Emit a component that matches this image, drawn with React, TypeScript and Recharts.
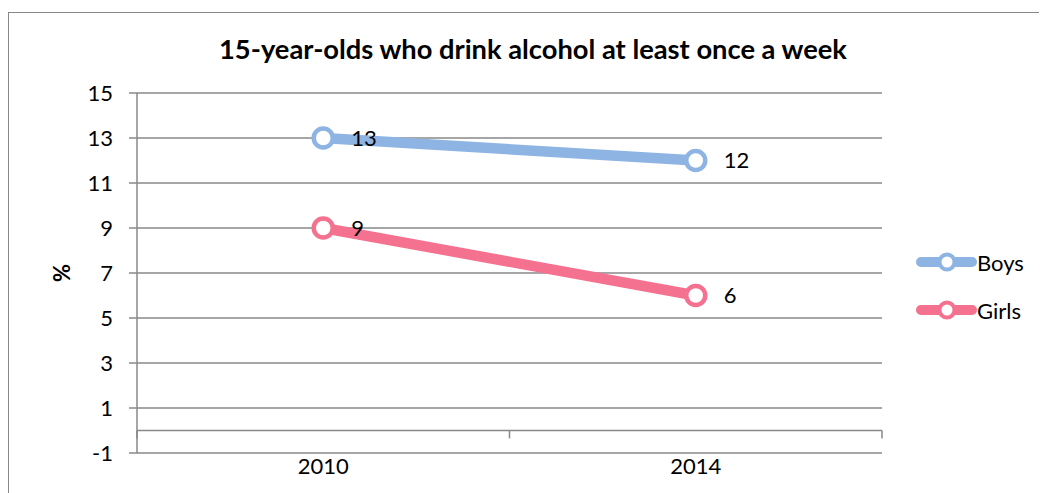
import React from "react";
import {
  LineChart, Line, XAxis, YAxis, CartesianGrid, ReferenceLine, LabelList,
} from "recharts";

const years = ["2010", "2014"];
const boys = [13, 12];
const girls = [9, 6];
const yTicks = [-1, 1, 3, 5, 7, 9, 11, 13, 15];

const SERIES = [
  { key: "boys", name: "Boys", color: "#8EB4E3" },
  { key: "girls", name: "Girls", color: "#F4718F" },
];

const GRID = "#888888";
const FONT = "Lato, 'Open Sans', sans-serif";

// points sit in the middle of each year band, band edges get the small ticks
const data = years.map((year, i) => ({ pos: i + 0.5, year, boys: boys[i], girls: girls[i] }));
const bandEdges = Array.from({ length: years.length + 1 }, (_, i) => i);

function Marker(props: any) {
  const { cx, cy, stroke } = props;
  if (cx == null || cy == null) return null;
  return <circle cx={cx} cy={cy} r={9.5} fill="#fff" stroke={stroke} strokeWidth={4.5} />;
}

function LegendBox() {
  return (
    <div style={{ position: "absolute", left: 907, top: 236, fontFamily: FONT, fontSize: 22, color: "#000" }}>
      {SERIES.map((s, i) => (
        <div key={s.key} style={{ display: "flex", alignItems: "center", height: 26, marginTop: i ? 22 : 0 }}>
          <svg width={61} height={26}>
            <line x1={5} y1={13} x2={56} y2={13} stroke={s.color} strokeWidth={10} strokeLinecap="round" />
            <circle cx={31} cy={13} r={7.5} fill="#fff" stroke={s.color} strokeWidth={4} />
          </svg>
          <span>{s.name}</span>
        </div>
      ))}
    </div>
  );
}

export default function App() {
  return (
    <div style={{ position: "relative", width: 1039, height: 481, marginTop: 4, borderTop: `1px solid ${GRID}`, borderLeft: `1px solid ${GRID}` }}>
      <div style={{ position: "absolute", left: 0, width: 1048, top: 19, textAlign: "center", fontFamily: FONT, fontWeight: 700, fontSize: 27.3, color: "#000" }}>
        15-year-olds who drink alcohol at least once a week
      </div>
      <LineChart width={1038} height={480} data={data} margin={{ top: 80, right: 165, bottom: 10, left: 30 }}>
        <CartesianGrid vertical={false} stroke={GRID} strokeWidth={1.5} />
        <XAxis
          type="number"
          dataKey="pos"
          domain={[0, years.length]}
          ticks={data.map(d => d.pos)}
          tickFormatter={(v: number) => years[Math.floor(v)]}
          height={30}
          axisLine={false}
          tickLine={false}
          tickSize={0}
          tickMargin={5}
          tick={{ fontSize: 22, fill: "#000", fontFamily: FONT }}
        />
        <YAxis
          domain={[-1, 15]}
          ticks={yTicks}
          interval={0}
          width={98}
          tickSize={8}
          tickMargin={16}
          stroke={GRID}
          axisLine={{ stroke: GRID, strokeWidth: 1.5 }}
          tickLine={{ stroke: GRID, strokeWidth: 1.5 }}
          tick={{ fontSize: 22, fill: "#000", fontFamily: FONT }}
          label={{ value: "%", angle: -90, position: "center", dx: -26, fontSize: 22, fontWeight: 700, fill: "#000", fontFamily: FONT }}
        />
        <ReferenceLine y={0} stroke={GRID} strokeWidth={1.5} />
        {bandEdges.map(x => (
          <ReferenceLine key={x} segment={[{ x, y: 0 }, { x, y: -0.35 }]} stroke={GRID} strokeWidth={1.5} />
        ))}
        {SERIES.map(s => (
          <Line
            key={s.key}
            dataKey={s.key}
            name={s.name}
            stroke={s.color}
            strokeWidth={10.5}
            dot={<Marker />}
            activeDot={false}
            isAnimationActive={false}
          >
            <LabelList dataKey={s.key} position="right" offset={28} fontSize={22} fill="#000" fontFamily={FONT} />
          </Line>
        ))}
      </LineChart>
      <LegendBox />
    </div>
  );
}
